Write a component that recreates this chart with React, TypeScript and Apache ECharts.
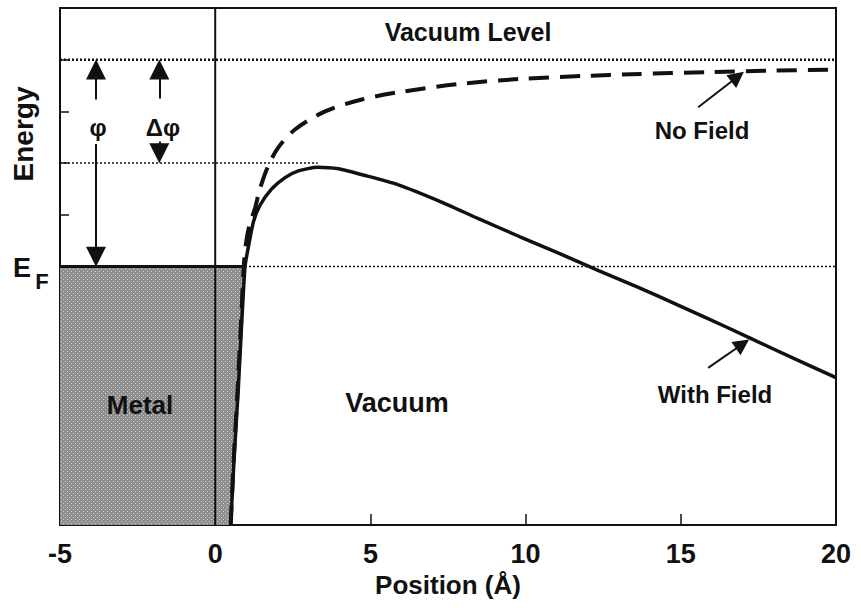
import React, { useEffect, useRef } from "react";
import * as echarts from "echarts";

// Axis ranges
const xMin = -5;
const xMax = 20;
const xInterval = 5;
const yMin = -5;
const yMax = 5;
const yInterval = 1;

// Energy levels (arbitrary units, E_F = 0)
const fermiLevel = 0;
const vacuumLevel = 4;
const barrierTop = 2;
const barrierPeakX = 3.3;
const surfaceX = 0.96; // where curves cross E_F

// Potential curves
const withFieldX = [0.5, 0.61, 0.74, 0.85, 0.96, 1.06, 1.23, 1.44, 1.82, 2.25, 2.68, 3.3, 3.97, 4.83, 5.9, 7.2, 8.5, 9.8, 11.1, 12.35, 13.65, 15, 16.5, 18, 20];
const withFieldE = [-5, -3.7, -2.41, -1.13, 0, 0.35, 0.86, 1.18, 1.5, 1.72, 1.85, 1.92, 1.89, 1.76, 1.58, 1.27, 0.92, 0.58, 0.25, -0.08, -0.41, -0.77, -1.18, -1.6, -2.15];

const noFieldX = [0.5, 0.6, 0.72, 0.83, 0.92, 0.98, 1.1, 1.28, 1.44, 1.71, 2.03, 2.57, 3.54, 4.72, 5.9, 7.84, 9.88, 12.03, 13.4, 16, 18, 20];
const noFieldE = [-5, -3.7, -2.4, -1.1, 0, 0.4, 0.8, 1.12, 1.5, 1.95, 2.3, 2.65, 3.0, 3.23, 3.37, 3.53, 3.63, 3.69, 3.72, 3.76, 3.79, 3.81];

// Metal (filled states) boundary
const metalX = [-5, 0.96, 0.85, 0.74, 0.61, 0.5, -5];
const metalE = [0, 0, -1.13, -2.41, -3.7, -5, -5];

// Arrows: start and end (data coords), head size
const arrowFrom = [
  [-3.84, 3.23],
  [-3.84, 2.37],
  [-1.8, 3.25],
  [-1.8, 2.42],
  [15.56, 3.08],
  [15.88, -1.96],
];
const arrowTo = [
  [-3.84, 3.81],
  [-3.84, 0.19],
  [-1.8, 3.81],
  [-1.8, 2.19],
  [16.83, 3.67],
  [16.99, -1.5],
];
const arrowHead = [20, 20, 20, 20, 16, 16];

const FONT = "Liberation Sans, Arial, Helvetica, sans-serif";
const INK = "#111";

function pairs(xs: number[], ys: number[]) {
  return xs.map((x, i) => [x, ys[i]]);
}

function makeStipple(): any {
  try {
    const c = document.createElement("canvas");
    c.width = 4;
    c.height = 4;
    const g = c.getContext("2d");
    if (!g) return "#9a9a9a";
    g.fillStyle = "#8e8e8e";
    g.fillRect(0, 0, 4, 4);
    g.fillStyle = "#d2d2d2";
    g.fillRect(1, 1, 1, 1);
    g.fillRect(3, 3, 1, 1);
    return { image: c.toDataURL(), repeat: "repeat" };
  } catch (e) {
    return "#9a9a9a";
  }
}

export default function App() {
  const ref = useRef<HTMLDivElement>(null);

  useEffect(() => {
    if (!ref.current) return;
    const chart = echarts.init(ref.current, undefined, { renderer: "svg" });

    const metalPts = pairs(metalX, metalE);
    const stipple = makeStipple();

    const txt = (text: string, x: number, y: number, size: number, extra: any = {}) => ({
      type: "text",
      x,
      y,
      z: 100,
      ...extra,
      style: {
        text,
        font: `bold ${size}px ${FONT}`,
        fill: INK,
        align: "center",
        verticalAlign: "middle",
        textAlign: "center",
        textVerticalAlign: "middle",
      },
    });

    const option: any = {
      animation: false,
      backgroundColor: "#fff",
      grid: {
        left: 60,
        right: 25,
        top: 8,
        bottom: 85,
        show: true,
        borderColor: INK,
        borderWidth: 2,
        backgroundColor: "transparent",
      },
      xAxis: {
        type: "value",
        min: xMin,
        max: xMax,
        interval: xInterval,
        name: "Position (Å)",
        nameLocation: "middle",
        nameGap: 46,
        nameTextStyle: { color: INK, fontFamily: FONT, fontWeight: "bold", fontSize: 26 },
        axisLine: { show: true, onZero: false, lineStyle: { color: INK, width: 2 } },
        axisTick: { show: true, inside: true, length: 11, lineStyle: { color: INK, width: 1.5 } },
        axisLabel: { color: INK, fontFamily: FONT, fontWeight: "bold", fontSize: 27, margin: 15 },
        splitLine: { show: false },
      },
      yAxis: {
        type: "value",
        min: yMin,
        max: yMax,
        interval: yInterval,
        axisLine: { show: true, onZero: false, lineStyle: { color: INK, width: 2 } },
        axisTick: { show: true, inside: true, length: 9, lineStyle: { color: INK, width: 1.5 } },
        axisLabel: { show: false },
        splitLine: { show: false },
      },
      graphic: [
        txt("Vacuum Level", 468, 32, 25),
        txt("No Field", 702, 130, 24),
        txt("With Field", 715, 394, 24),
        txt("Vacuum", 397, 403, 27),
        txt("Metal", 140, 405, 26),
        txt("Energy", 23, 134, 28, { rotation: Math.PI / 2 }),
        txt("E", 22, 268, 27),
        txt("F", 42, 281, 22),
        txt("φ", 98, 127, 24),
        txt("Δφ", 163, 127, 24),
      ],
      series: [
        {
          type: "custom",
          z: 1,
          silent: true,
          data: [[0, 0]],
          renderItem: (_params: any, api: any) => {
            const points = metalPts.map((p) => api.coord(p));
            return {
              type: "polygon",
              shape: { points },
              style: { fill: stipple, stroke: "none" },
            };
          },
        },
        {
          type: "line",
          z: 3,
          silent: true,
          symbol: "none",
          data: [
            [xMin, vacuumLevel],
            [xMax, vacuumLevel],
          ],
          lineStyle: { color: INK, width: 2.5, type: [2, 2] },
        },
        {
          type: "line",
          z: 3,
          silent: true,
          symbol: "none",
          data: [
            [xMin, barrierTop],
            [barrierPeakX, barrierTop],
          ],
          lineStyle: { color: INK, width: 1.5, type: [2, 2] },
        },
        {
          type: "line",
          z: 3,
          silent: true,
          symbol: "none",
          data: [
            [surfaceX, fermiLevel],
            [xMax, fermiLevel],
          ],
          lineStyle: { color: INK, width: 1.5, type: [2, 2] },
        },
        {
          type: "line",
          z: 4,
          silent: true,
          symbol: "none",
          data: [
            [xMin, fermiLevel],
            [surfaceX, fermiLevel],
          ],
          lineStyle: { color: INK, width: 3 },
        },
        {
          type: "line",
          z: 4,
          silent: true,
          symbol: "none",
          data: [
            [0, yMin],
            [0, yMax],
          ],
          lineStyle: { color: INK, width: 2 },
          markLine: {
            silent: true,
            symbol: ["none", "triangle"],
            symbolSize: 20,
            label: { show: false },
            lineStyle: { color: INK, width: 2, type: "solid" },
            emphasis: { disabled: true },
            data: arrowFrom.map((f, i) => [
              { coord: f, symbol: "none" },
              { coord: arrowTo[i], symbol: "triangle", symbolSize: arrowHead[i] },
            ]),
          },
        },
        {
          type: "line",
          name: "No Field",
          z: 5,
          silent: true,
          symbol: "none",
          smooth: 0.3,
          data: pairs(noFieldX, noFieldE),
          lineStyle: { color: INK, width: 4, type: [20, 11] },
        },
        {
          type: "line",
          name: "With Field",
          z: 6,
          silent: true,
          symbol: "none",
          smooth: 0.2,
          data: pairs(withFieldX, withFieldE),
          lineStyle: { color: INK, width: 3.5 },
        },
      ],
    };

    chart.setOption(option);
    return () => chart.dispose();
  }, []);

  return (
    <div
      ref={ref}
      style={{ position: "fixed", left: 0, top: 0, width: 861, height: 610, background: "#fff" }}
    />
  );
}
